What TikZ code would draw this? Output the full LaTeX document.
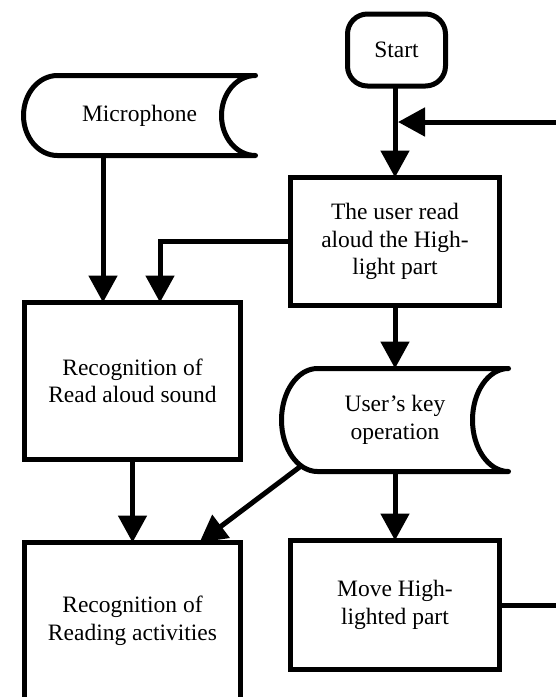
\documentclass[tikz,border=0pt]{standalone}
\usepackage{fontspec}
\setmainfont{Liberation Serif}
\usetikzlibrary{arrows.meta,positioning}
% stored data symbol: node, arc depth, half height
\newcommand{\storedata}[3]{%
  \draw[boxline] (#1.north east) -- ([xshift=#2pt]#1.north west)
    arc[start angle=270,end angle=90,x radius=#2,y radius=#3]
    -- (#1.south east)
    arc[start angle=90,end angle=270,x radius=#2,y radius=#3];
}

\begin{document}
\begin{tikzpicture}[x=1pt,y=-1pt,font=\fontsize{23.5}{27.5}\selectfont]
\tikzstyle{boxline}=[line width=5pt,line join=round,line cap=round]
\tikzstyle{procbox}=[draw,line width=5pt,align=center,inner sep=0pt,outer sep=0pt]
\tikzstyle{storebox}=[align=center,inner sep=0pt,outer sep=0pt]
\tikzstyle{flow}=[line width=5pt,-{Triangle[length=27pt,width=28pt]}]
\clip (0,0) rectangle (556,697);
\node [procbox,rounded corners=20pt,minimum width=98pt,minimum height=72pt] at (396.5,50) (start) {Start};
\node [storebox,minimum width=232pt,minimum height=80pt] at (139.5,115.5) (mic) {Microphone};
\node [procbox,minimum width=209pt,minimum height=128pt] at (395,241.5) (user) {The user read\\aloud the High-\\light part};
\node [procbox,minimum width=216pt,minimum height=157pt] at (132.5,381) (sound) {Recognition of\\Read aloud sound};
\node [storebox,minimum width=227pt,minimum height=103pt] at (395,420) (key) {User's key\\operation};
\node [procbox,minimum width=209pt,minimum height=129pt] at (395,605) (move) {Move High-\\lighted part};
\node [procbox,minimum width=216pt,minimum height=157pt] at (132.5,621) (read) {Recognition of\\Reading activities};
\storedata{mic}{34}{40}
\storedata{key}{36}{51.5}
\coordinate (micx) at (103,0);
\coordinate (merge) at (398,122);
\coordinate (keyout) at (301,466);
\draw [flow] (start.south -| user.north) -- (user);
\draw [flow] (move.east) -- ++(70,0) |- (merge);
\draw [flow] (mic.south -| micx) -- (sound.north -| micx);
\draw [flow] (user.west) -| ([xshift=27.5pt]sound.north);
\draw [flow] (user) -- (key);
\draw [flow] (key) -- (move);
\draw [flow] (sound) -- (read);
\draw [flow] (keyout) -- ([xshift=67pt]read.north);
\end{tikzpicture}
\end{document}
